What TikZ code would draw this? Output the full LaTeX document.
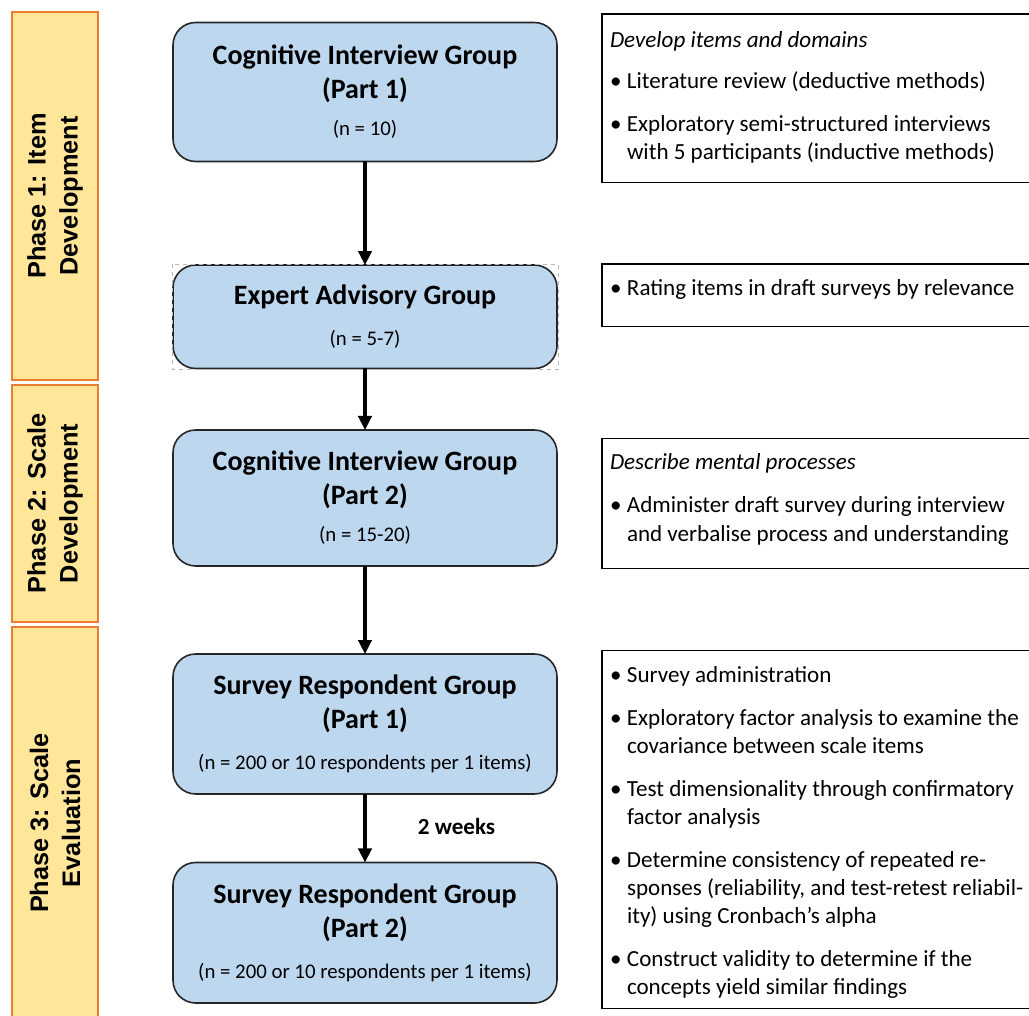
\documentclass[tikz,border=0pt]{standalone}
\usepackage{fontspec}
\setmainfont{Carlito}
\newfontfamily\phasefont{Liberation Sans}
\usetikzlibrary{arrows.meta}
\definecolor{phasefill}{RGB}{255,230,153}
\definecolor{phaseline}{RGB}{237,125,49}
\definecolor{boxfill}{RGB}{189,215,238}
\definecolor{boxline}{RGB}{38,38,38}
\newcommand{\titlef}{\fontsize{21}{25.5}\selectfont\bfseries}
\newcommand{\smallf}{\fontsize{15.6}{25.5}\selectfont\mdseries}
\newcommand{\bodyf}{\fontsize{17.3}{21.2}\selectfont}
\newcommand{\phasef}{\phasefont\fontsize{19}{24}\selectfont\bfseries}
\newcommand{\topstrut}{\rule{0pt}{18pt}}
\newcommand{\botstrut}{\rule[-6pt]{0pt}{6pt}}
\newcommand{\firststrut}{\rule{0pt}{16pt}}
\newcommand{\bul}{\makebox[12.75pt][l]{•}}
\newcommand{\cont}{\hspace*{12.75pt}}
\tikzset{
  phasebar/.style={draw=phaseline, fill=phasefill, line width=1.5pt, rotate=90,
    minimum height=64.5pt, inner sep=0pt, outer sep=0pt, align=center, font=\phasef},
  groupbox/.style={draw=boxline, fill=boxfill, line width=1.2pt, rounded corners=17pt,
    minimum width=288pt, inner sep=0pt, outer sep=0pt, align=center, font=\titlef},
  notebox/.style={draw=black, line width=1.1pt, anchor=north west, minimum width=328.5pt,
    inner sep=0pt, outer sep=0pt},
  notetext/.style={anchor=north west, inner sep=0pt, outer sep=0pt, align=left, font=\bodyf},
  flow/.style={line width=2.4pt, -{Triangle[width=10pt,length=10.5pt]}},
}
\begin{document}
\begin{tikzpicture}[x=0.75pt, y=-0.75pt]
\useasboundingbox (0,0) rectangle (1029,1016);

% phase bars
\node[phasebar, minimum width=276pt] (ph1) at (55,196) {Phase 1: Item\\Development};
\node[phasebar, minimum width=177.75pt] (ph2) at (55,503.5) {Phase 2: Scale\\Development};
\node[phasebar, minimum width=294pt] (ph3) at (55,823) {Phase 3: Scale\\Evaluation};

% group boxes
\node[groupbox, minimum height=104.25pt] (b1) at (365,92)
  {\topstrut Cognitive Interview Group\\(Part 1)\\[2.8pt]{\smallf (n = 10)}\botstrut};
\node[groupbox, minimum height=77.6pt] (b2) at (365,316.75)
  {\topstrut Expert Advisory Group\\[5.5pt]{\smallf (n = 5-7)}\botstrut};
\node[groupbox, minimum height=102pt] (b3) at (365,498)
  {\topstrut Cognitive Interview Group\\(Part 2)\\[2.8pt]{\smallf (n = 15-20)}\botstrut};
\node[groupbox, minimum height=105pt] (b4) at (365,724)
  {\topstrut Survey Respondent Group\\(Part 1)\\[5.5pt]{\smallf (n = 200 or 10 respondents per 1 items)}\botstrut};
\node[groupbox, minimum height=105.4pt] (b5) at (365,932.75)
  {\topstrut Survey Respondent Group\\(Part 2)\\[5.5pt]{\smallf (n = 200 or 10 respondents per 1 items)}\botstrut};

\draw[gray!55, dashed, line width=0.4pt] ([shift={(-1,-1)}]b2.north west) rectangle ([shift={(1,1)}]b2.south east);

% connectors
\draw[flow] (b1) -- (b2);
\draw[flow] (b2) -- (b3);
\draw[flow] (b3) -- (b4);
\draw[flow] (b4) -- (b5);
\node[font=\bodyf\bfseries, anchor=base, inner sep=0pt] (wk) at (456.5,834.3) {2 weeks};

% note boxes
\node[notebox, minimum height=126.5pt] (nA) at (602,14) {};
\node[notebox, minimum height=47pt] (nB) at (602,264) {};
\node[notebox, minimum height=97.5pt] (nC) at (602,438.3) {};
\node[notebox, minimum height=268.2pt] (nD) at (602,650.7) {};

\node[notetext] (tA) at (610,26) {\firststrut\textit{Develop items and domains}\\[10pt]
  \bul Literature review (deductive methods)\\[10.9pt]
  \bul Exploratory semi-structured interviews\\
  \cont with 5 participants (inductive methods)};
\node[notetext] (tB) at (610,273.67) {\firststrut\bul Rating items in draft surveys by relevance};
\node[notetext] (tC) at (610,447.97) {\firststrut\textit{Describe mental processes}\\[11.5pt]
  \bul Administer draft survey during interview\\
  \cont and verbalise process and understanding};
\node[notetext] (tD) at (610,660.97) {\firststrut\bul Survey administration\\[10.9pt]
  \bul Exploratory factor analysis to examine the\\
  \cont covariance between scale items\\[10.9pt]
  \bul Test dimensionality through confirmatory\\
  \cont factor analysis\\[10.9pt]
  \bul Determine consistency of repeated re-\\
  \cont sponses (reliability, and test-retest reliabil-\\
  \cont ity) using Cronbach’s alpha\\[10.5pt]
  \bul Construct validity to determine if the\\
  \cont concepts yield similar findings};
\end{tikzpicture}
\end{document}
